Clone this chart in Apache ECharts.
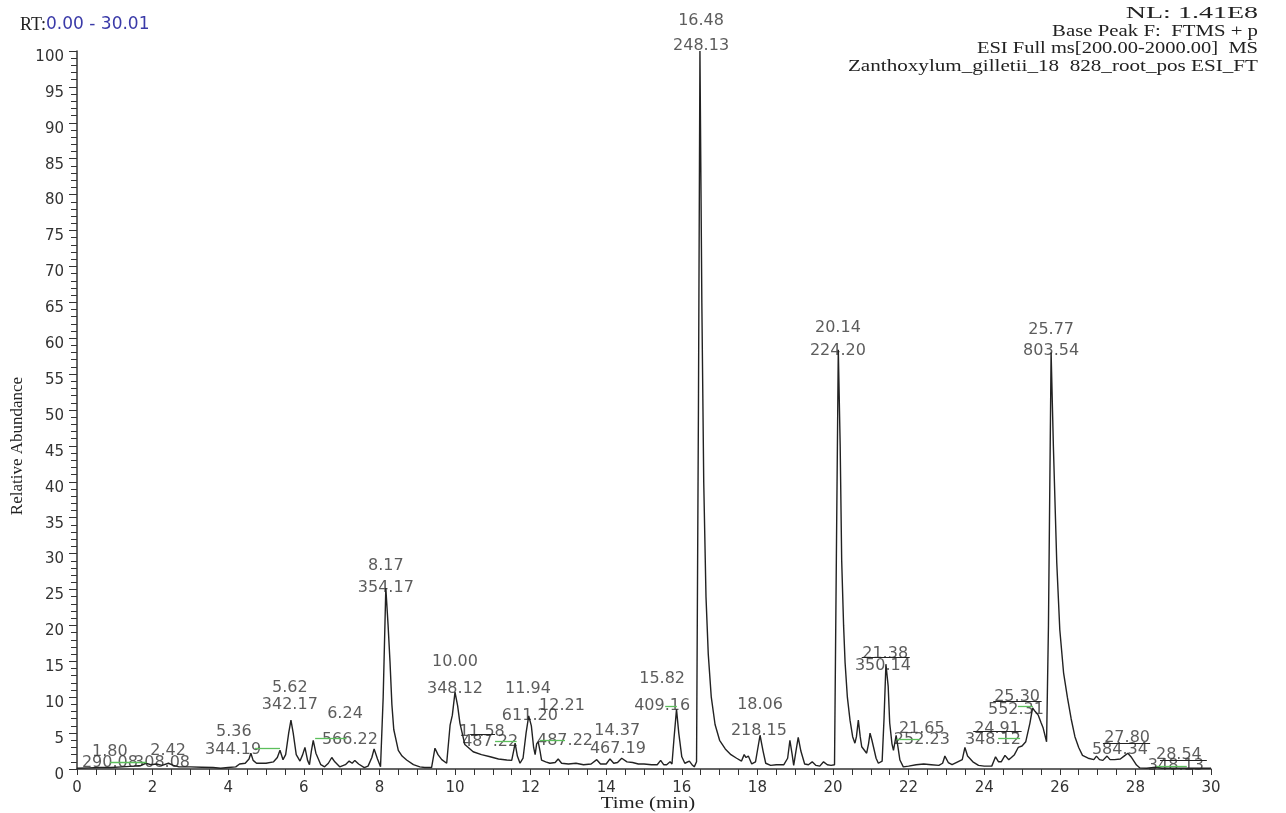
<!DOCTYPE html>
<html>
<head>
<meta charset="utf-8">
<script src="https://cdn.jsdelivr.net/npm/echarts@6/dist/echarts.min.js"></script>
<style>
  html, body { margin: 0; padding: 0; background: #fff; }
  #chart { width: 1286px; height: 813px; }
</style>
</head>
<body>
<div id="chart"></div>
<script>
// base peak trace, [time (min), relative abundance]
var trace = [
  [0,0.1],[0.3,0.15],[0.6,0.2],[0.9,0.2],[1.2,0.3],[1.5,0.4],[1.7,0.5],[1.82,0.8],[1.95,0.6],[2.1,0.7],
  [2.25,0.5],[2.42,0.8],[2.55,0.5],[2.7,0.3],[3.0,0.3],[3.3,0.25],[3.6,0.2],[3.8,0.1],[4.0,0.2],[4.2,0.3],
  [4.3,0.7],[4.45,0.8],[4.55,1.4],[4.6,2.2],[4.66,1.2],[4.75,0.8],[5.0,0.8],[5.2,1.0],[5.3,1.6],[5.37,2.6],
  [5.45,1.3],[5.52,2.0],[5.6,5.0],[5.66,6.8],[5.72,5.0],[5.8,2.0],[5.9,1.1],[5.97,2.0],[6.03,3.0],[6.1,1.2],
  [6.15,0.6],[6.2,2.5],[6.25,4.0],[6.32,2.2],[6.45,0.6],[6.55,0.3],[6.65,0.8],[6.74,1.6],[6.82,1.0],[6.95,0.3],
  [7.1,0.6],[7.2,1.1],[7.28,0.8],[7.35,1.2],[7.45,0.7],[7.6,0.2],[7.7,0.4],[7.8,1.6],[7.86,2.8],[7.95,1.4],
  [8.03,0.3],[8.1,10],[8.17,25.2],[8.23,20],[8.28,15],[8.33,9],[8.38,5.5],[8.5,2.6],[8.6,1.8],[8.72,1.25],
  [8.9,0.6],[9.07,0.3],[9.2,0.2],[9.38,0.2],[9.47,2.9],[9.55,2.0],[9.65,1.3],[9.78,0.8],[9.87,6.1],[9.93,7.5],
  [10.0,10.7],[10.07,8.8],[10.13,6.4],[10.26,3.4],[10.48,2.4],[10.7,2.0],[10.93,1.7],[11.15,1.4],[11.37,1.25],[11.5,1.2],
  [11.55,2.5],[11.59,3.6],[11.65,1.8],[11.72,0.8],[11.8,1.5],[11.88,5.0],[11.95,7.4],[12.02,6.0],[12.08,3.0],[12.12,2.0],
  [12.16,3.5],[12.2,3.8],[12.25,2.5],[12.29,1.25],[12.4,1.0],[12.51,0.8],[12.65,0.9],[12.73,1.4],[12.82,0.8],[13.0,0.7],
  [13.2,0.8],[13.4,0.6],[13.6,0.7],[13.75,1.3],[13.85,0.7],[14.0,0.7],[14.1,1.4],[14.2,0.8],[14.3,0.9],[14.41,1.5],
  [14.55,1.0],[14.7,0.9],[14.85,0.7],[15.0,0.7],[15.2,0.6],[15.35,0.6],[15.44,1.2],[15.52,0.6],[15.6,0.6],[15.69,1.0],
  [15.74,0.7],[15.79,4.0],[15.86,8.3],[15.92,5.0],[16.0,1.7],[16.08,0.8],[16.13,0.7],[16.2,1.1],[16.27,0.6],[16.33,0.3],
  [16.39,1.0],[16.44,50],[16.48,100],[16.53,65],[16.58,40],[16.64,24],[16.7,16],[16.78,10],[16.88,6.2],[17.0,4.0],
  [17.15,2.8],[17.3,2.0],[17.45,1.5],[17.58,1.1],[17.65,2.0],[17.7,1.6],[17.76,1.8],[17.85,0.7],[17.95,1.0],[18.07,4.7],
  [18.15,2.5],[18.22,0.8],[18.35,0.5],[18.5,0.6],[18.7,0.6],[18.8,1.5],[18.86,4.0],[18.92,2.0],[18.96,0.5],[19.02,2.5],
  [19.08,4.4],[19.15,2.5],[19.25,0.7],[19.35,0.6],[19.45,1.0],[19.55,0.5],[19.65,0.4],[19.75,1.0],[19.85,0.6],[19.95,0.5],
  [20.04,0.6],[20.09,30],[20.14,58.4],[20.19,45],[20.23,29],[20.28,20],[20.32,14.8],[20.38,10],[20.45,6.8],[20.52,4.5],
  [20.58,3.6],[20.62,4.5],[20.67,6.8],[20.72,4.5],[20.76,3.1],[20.89,2.2],[20.94,3.5],[20.98,5.0],[21.03,4.0],[21.07,3.1],
  [21.14,1.5],[21.2,0.8],[21.3,1.1],[21.35,7],[21.4,14.6],[21.46,11.5],[21.5,6.4],[21.56,3.5],[21.6,2.6],[21.67,4.7],
  [21.72,3.0],[21.77,1.25],[21.86,0.3],[22.0,0.4],[22.2,0.6],[22.4,0.7],[22.6,0.6],[22.8,0.5],[22.9,0.8],[22.96,1.8],
  [23.05,0.9],[23.15,0.6],[23.3,1.0],[23.42,1.3],[23.49,3.0],[23.56,1.8],[23.7,1.0],[23.85,0.5],[24.0,0.4],[24.2,0.4],
  [24.3,1.7],[24.38,1.0],[24.45,1.0],[24.55,1.9],[24.65,1.3],[24.72,1.6],[24.8,2.0],[24.9,3.0],[25.0,3.2],[25.1,3.8],
  [25.21,6.4],[25.28,8.5],[25.35,8.0],[25.43,7.5],[25.5,6.5],[25.56,5.7],[25.65,3.8],[25.7,20],[25.77,58],[25.83,45],
  [25.92,28.7],[26.0,19.4],[26.1,13.4],[26.2,10],[26.3,7.0],[26.4,4.5],[26.5,3.0],[26.6,1.9],[26.75,1.5],[26.9,1.3],
  [26.97,1.8],[27.05,1.3],[27.14,1.2],[27.25,1.8],[27.33,1.3],[27.45,1.3],[27.6,1.4],[27.7,1.8],[27.8,2.2],[27.9,1.6],
  [28.03,0.55],[28.12,0.15],[28.3,0.1],[28.54,0.25],[28.7,0.1],[29.0,0.1],[29.3,0.1],[29.6,0.1],[30.0,0.1]
];

// peak annotations: retention time and base peak m/z
var peakRT = ['16.48','20.14','25.77','8.17','10.00','5.62','5.36','6.24','1.80','2.42','11.94',
              '12.21','11.58','15.82','14.37','18.06','21.38','21.65','25.30','24.91','27.80','28.54'];
var peakMz = ['248.13','224.20','803.54','354.17','348.12','342.17','344.19','566.22','290.08','308.08','611.20',
              '487.22','487.22','409.16','467.19','218.15','350.14','252.23','552.31','348.12','584.34','348.13'];

// where each label sits, in axis units: [rt line x, rt line y, m/z line x, m/z line y]
var labelAt = [
  [16.51,104.2,16.51,100.7],[20.13,61.4,20.13,58.3],[25.77,61.2,25.77,58.3],[8.17,28.3,8.17,25.2],
  [10.0,14.9,10.0,11.2],[5.63,11.3,5.63,8.9],[4.15,5.2,4.13,2.65],[7.09,7.7,7.22,4.0],
  [0.87,2.4,0.87,0.84],[2.41,2.5,2.25,0.84],[11.93,11.2,11.98,7.4],[12.83,8.8,12.91,3.9],
  [10.71,5.2,10.93,3.8],[15.48,12.55,15.48,8.8],[14.29,5.3,14.31,2.8],[18.07,8.9,18.04,5.3],
  [21.38,16.0,21.32,14.4],[22.35,5.6,22.35,4.0],[24.87,10.0,24.84,8.2],[24.34,5.6,24.23,4.0],
  [27.78,4.3,27.59,2.65],[29.15,1.95,29.07,0.42]
];

// short green leader lines: [from time, to time, level]
var leaders = [
  [0.87,1.84,0.88],[4.71,5.37,2.93],[6.30,7.13,4.23],[11.06,11.63,3.81],[12.25,12.91,4.04],
  [15.56,15.87,8.79],[21.68,22.30,4.18],[24.37,24.95,4.32],[24.89,25.29,8.69],[28.56,29.36,0.42]
];
// black rules under crowded labels: [from time, to time, level]
var rules = [
  [10.4,11.06,4.8],[20.76,22.03,15.5],[23.71,24.99,5.2],[24.24,25.52,9.4],[27.14,28.39,3.6],[28.65,29.89,1.25]
];

var labelData = [];
for (var i = 0; i < peakRT.length; i++) {
  labelData.push({ value: [labelAt[i][0], labelAt[i][1]], name: peakRT[i] });
  labelData.push({ value: [labelAt[i][2], labelAt[i][3]], name: peakMz[i] });
}

var segData = leaders.map(function (d) {
  return [{ coord: [d[0], d[2]] }, { coord: [d[1], d[2]] }];
}).concat(rules.map(function (d) {
  return [{ coord: [d[0], d[2]], lineStyle: { color: '#222', width: 1 } }, { coord: [d[1], d[2]] }];
}));

var serif = '"Liberation Serif", "Times New Roman", serif';
var sans = '"DejaVu Sans", Verdana, sans-serif';

function headLine(txt, y, sx) {
  return {
    type: 'text', x: 1258, y: y, scaleX: sx,
    style: { text: txt, align: 'right', verticalAlign: 'middle', fontFamily: serif, fontSize: 16, fill: '#222' }
  };
}

var chart = echarts.init(document.getElementById('chart'));

var option = {
  animation: false,
  backgroundColor: '#fff',
  grid: { left: 77, right: 75, top: 51, bottom: 44 },
  graphic: [
    {
      type: 'text', x: 20, y: 25,
      style: {
        text: '{a|RT:}{b|0.00 - 30.01}',
        verticalAlign: 'middle',
        rich: {
          a: { fontFamily: serif, fontSize: 18, fill: '#222' },
          b: { fontFamily: sans, fontSize: 17, fill: '#3a3aa8' }
        }
      }
    },
    headLine('NL: 1.41E8', 14, 1.75),
    headLine('Base Peak F:  FTMS + p', 32, 1.3),
    headLine('ESI Full ms[200.00-2000.00]  MS', 49, 1.28),
    headLine('Zanthoxylum_gilletii_18  828_root_pos ESI_FT', 67, 1.32),
    {
      type: 'text', x: 648, y: 804, scaleX: 1.3,
      style: { text: 'Time (min)', align: 'center', verticalAlign: 'middle', fontFamily: serif, fontSize: 16, fill: '#222' }
    },
    {
      type: 'text', x: 18, y: 446, rotation: Math.PI / 2,
      style: { text: 'Relative Abundance', align: 'center', verticalAlign: 'middle', fontFamily: serif, fontSize: 17, fill: '#222' }
    }
  ],
  xAxis: {
    type: 'value',
    min: 0, max: 30, interval: 2,
    axisLine: { lineStyle: { color: '#333', width: 1.5 } },
    axisTick: { length: 6, lineStyle: { color: '#333' } },
    minorTick: { show: true, splitNumber: 4, length: 6, lineStyle: { color: '#333' } },
    axisLabel: { fontFamily: sans, fontSize: 15, color: '#333', margin: 12 },
    splitLine: { show: false }
  },
  yAxis: {
    type: 'value',
    min: 0, max: 100, interval: 5,
    axisLine: { show: true, lineStyle: { color: '#333', width: 1.5 } },
    axisTick: { show: true, length: 8, lineStyle: { color: '#333' } },
    minorTick: { show: true, splitNumber: 5, length: 6, lineStyle: { color: '#333' } },
    axisLabel: { fontFamily: sans, fontSize: 15, color: '#333', margin: 13, verticalAlign: 'top', lineHeight: 12 },
    splitLine: { show: false }
  },
  series: [
    {
      type: 'line',
      data: trace,
      showSymbol: false,
      symbol: 'none',
      lineStyle: { color: '#222', width: 1.4 },
      clip: false,
      markLine: {
        silent: true,
        symbol: 'none',
        label: { show: false },
        lineStyle: { color: '#5cbf5c', width: 1.3, type: 'solid' },
        data: segData
      }
    },
    {
      type: 'scatter',
      data: labelData,
      symbolSize: 0.1,
      itemStyle: { color: 'transparent' },
      clip: false,
      silent: true,
      label: {
        show: true,
        position: 'inside',
        offset: [0, 2],
        formatter: '{b}',
        fontFamily: sans,
        fontSize: 16,
        color: '#333'
      },
      labelLayout: { hideOverlap: false }
    }
  ]
};

chart.setOption(option);
</script>
</body>
</html>
